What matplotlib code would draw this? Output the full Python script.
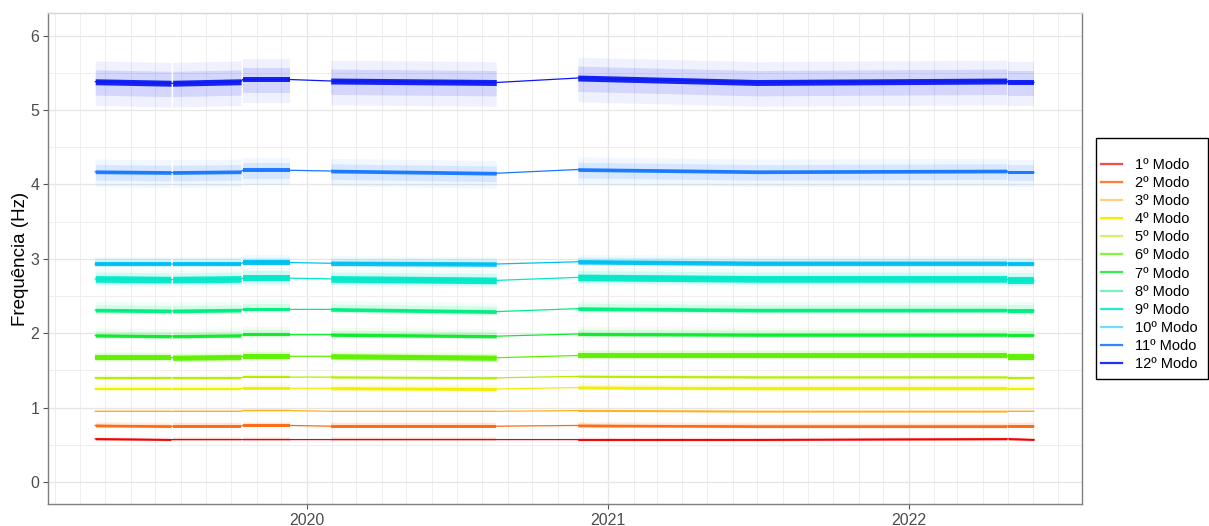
import numpy as np
import pandas as pd
import matplotlib
matplotlib.use("Agg")
import matplotlib.pyplot as plt
import matplotlib.dates as mdates
from matplotlib.lines import Line2D
from matplotlib.patches import Rectangle

plt.rcParams['font.family'] = ['Liberation Sans', 'DejaVu Sans']

# ---- data ----
modes = ["1º Modo", "2º Modo", "3º Modo", "4º Modo", "5º Modo", "6º Modo",
         "7º Modo", "8º Modo", "9º Modo", "10º Modo", "11º Modo", "12º Modo"]

# knot dates: start/end of each recorded segment (segment E has a mid knot)
knot_dates = ["2019-04-19", "2019-07-20", "2019-07-22", "2019-10-13",
              "2019-10-15", "2019-12-11", "2020-01-30", "2020-08-18",
              "2020-11-25", "2021-07-01", "2022-04-30", "2022-05-02",
              "2022-06-02"]
# segments as index ranges into knot_dates
segments = [(0, 1), (2, 3), (4, 5), (6, 7), (8, 10), (11, 12)]

m1 = [0.58, 0.57, 0.57, 0.57, 0.57, 0.57, 0.57, 0.57, 0.57, 0.57, 0.58, 0.58, 0.57]
m2 = [0.76, 0.75, 0.75, 0.75, 0.76, 0.76, 0.75, 0.75, 0.76, 0.75, 0.75, 0.75, 0.75]
m3 = [0.95, 0.95, 0.95, 0.95, 0.96, 0.96, 0.95, 0.95, 0.96, 0.95, 0.95, 0.95, 0.95]
m4 = [1.25, 1.25, 1.25, 1.25, 1.26, 1.26, 1.26, 1.25, 1.27, 1.26, 1.26, 1.25, 1.25]
m5 = [1.40, 1.40, 1.40, 1.40, 1.41, 1.41, 1.41, 1.40, 1.42, 1.41, 1.41, 1.40, 1.40]
m6 = [1.67, 1.67, 1.67, 1.68, 1.69, 1.69, 1.69, 1.67, 1.70, 1.70, 1.70, 1.68, 1.68]
m7 = [1.97, 1.96, 1.96, 1.97, 1.98, 1.98, 1.98, 1.96, 1.99, 1.98, 1.98, 1.97, 1.97]
m8 = [2.31, 2.30, 2.30, 2.31, 2.32, 2.32, 2.32, 2.29, 2.33, 2.31, 2.31, 2.30, 2.30]
m9 = [2.73, 2.72, 2.72, 2.73, 2.74, 2.74, 2.73, 2.71, 2.75, 2.73, 2.73, 2.71, 2.71]
m10 = [2.93, 2.93, 2.93, 2.93, 2.95, 2.95, 2.94, 2.93, 2.96, 2.94, 2.94, 2.93, 2.93]
m11 = [4.17, 4.16, 4.16, 4.17, 4.19, 4.19, 4.18, 4.15, 4.20, 4.17, 4.18, 4.16, 4.16]
m12 = [5.38, 5.36, 5.36, 5.38, 5.41, 5.41, 5.39, 5.37, 5.43, 5.37, 5.39, 5.37, 5.37]
centers = [m1, m2, m3, m4, m5, m6, m7, m8, m9, m10, m11, m12]

# dense core half-width and sparse scatter extent (below, above) in Hz
core_half = [0.012, 0.018, 0.010, 0.020, 0.012, 0.035, 0.022, 0.025, 0.045, 0.030, 0.025, 0.040]
spread_lo = [0.020, 0.025, 0.015, 0.030, 0.020, 0.060, 0.040, 0.050, 0.100, 0.050, 0.200, 0.320]
spread_hi = [0.030, 0.060, 0.025, 0.070, 0.040, 0.080, 0.100, 0.120, 0.140, 0.100, 0.170, 0.280]

colors = ["#F00000", "#FF6A10", "#FFB020", "#F2EE00", "#B5EE00", "#5EF000",
          "#10E830", "#00EE80", "#00E8C8", "#00C0F0", "#1878FF", "#0A1AF0"]
legend_alpha = [0.7, 0.85, 0.6, 1.0, 0.6, 0.75, 0.85, 0.55, 0.85, 0.55, 0.9, 0.9]

y_ticks = [0, 1, 2, 3, 4, 5, 6]
x_years = ["2020", "2021", "2022"]

# ---- figure ----
W, H = 1209, 526
fig = plt.figure(figsize=(W / 100, H / 100), dpi=100)
ax = fig.add_axes([48.3 / W, 1 - 504.3 / H, (1081.7 - 48.3) / W, (504.3 - 13.3) / H])

dates = pd.to_datetime(knot_dates)
xnum = mdates.date2num(dates)

for i in range(len(modes)):
    c = np.array(centers[i])
    col = colors[i]
    for (s, e) in segments:
        xs = xnum[s:e + 1]
        cs = c[s:e + 1]
        ax.fill_between(xs, cs - spread_lo[i], cs + spread_hi[i], color=col,
                        alpha=0.06, linewidth=0, zorder=2)
        ax.fill_between(xs, cs - (spread_lo[i] + core_half[i]) / 2,
                        cs + (spread_hi[i] + core_half[i]) / 2, color=col,
                        alpha=0.12, linewidth=0, zorder=2)
        ax.fill_between(xs, cs - core_half[i], cs + core_half[i], color=col,
                        alpha=0.95, linewidth=0, zorder=3)
    ax.plot(xnum, c, color=col, linewidth=0.9, zorder=3)

ax.set_xlim(mdates.date2num(pd.Timestamp("2019-02-21")),
            mdates.date2num(pd.Timestamp("2022-07-30")))
ax.set_ylim(-0.3, 6.3)

ax.set_yticks(y_ticks)
ax.set_yticks(np.arange(-0.0, 6.5, 0.5), minor=True)
ax.set_yticklabels([str(v) for v in y_ticks])
ax.set_xticks(mdates.date2num(pd.to_datetime([y + "-01-01" for y in x_years])))
ax.set_xticklabels(x_years)
ax.xaxis.set_minor_locator(mdates.MonthLocator())

ax.grid(which="major", color="#E6E6E6", linewidth=0.9, zorder=0)
ax.grid(which="minor", color="#EEEEEE", linewidth=0.7, zorder=0)
ax.set_axisbelow(True)

ax.tick_params(axis="both", which="major", length=3.5, width=0.8,
               color="#555555", labelcolor="#4D4D4D", labelsize=11.5, pad=3)
ax.tick_params(axis="both", which="minor", length=0)
for side in ["left", "bottom", "right"]:
    ax.spines[side].set_color("#7F7F7F")
    ax.spines[side].set_linewidth(1.0)
ax.spines["top"].set_color("#D5D5D5")
ax.spines["top"].set_linewidth(1.0)

ax.set_ylabel("Frequência (Hz)", fontsize=13.5, color="black", labelpad=1)

# legend frame drawn separately (as in the reference box)
fig.patches.append(Rectangle((1096 / W, 1 - 379 / H), 111.5 / W, 241 / H,
                             transform=fig.transFigure, fill=False,
                             edgecolor="black", linewidth=1.0))

handles = [Line2D([0], [0], color=colors[i], alpha=legend_alpha[i], linewidth=1.6)
           for i in range(len(modes))]
leg = fig.legend(handles, modes, loc="center left",
                 bbox_to_anchor=(1101 / W, 1 - 264.5 / H), frameon=False,
                 fontsize=10.5, handlelength=1.45, handletextpad=0.85,
                 labelspacing=0.28, borderpad=0, borderaxespad=0)

fig.savefig("out.png", dpi=100)
